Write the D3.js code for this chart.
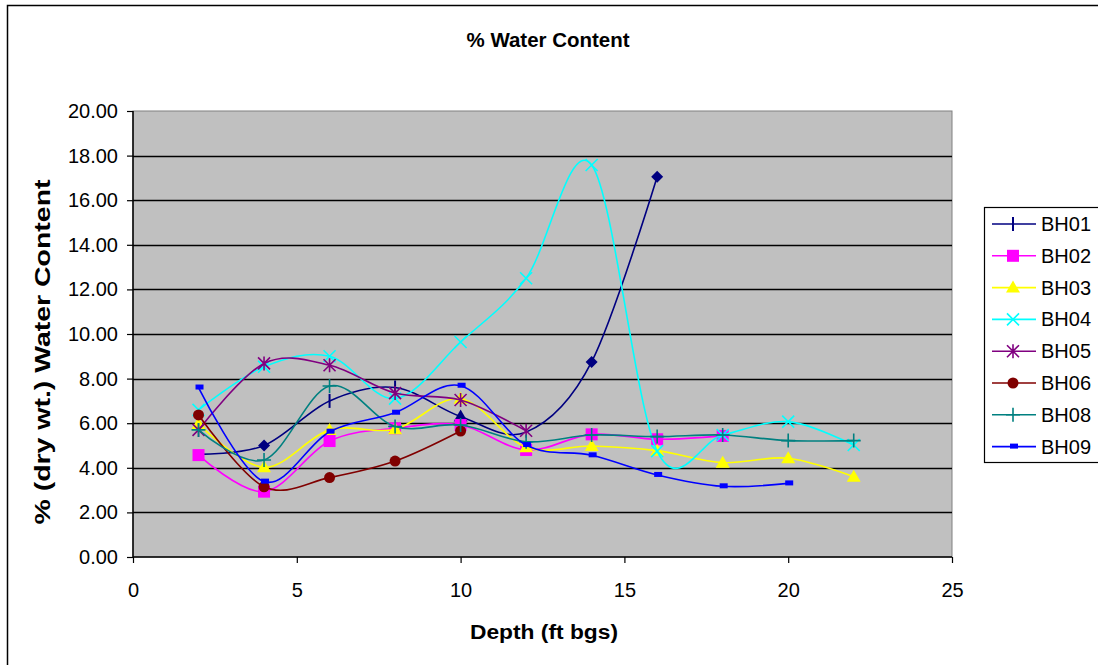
<!DOCTYPE html>
<html>
<head>
<meta charset="utf-8">
<script src="https://cdn.jsdelivr.net/npm/d3@7"></script>
<style>
  body { margin: 0; background: #fff; }
  text { font-family: "Liberation Sans", Arial, sans-serif; }
</style>
</head>
<body>
<script>
// depths (ft bgs) and % water content
var seriesNames = ["BH01", "BH02", "BH03", "BH04", "BH05", "BH06", "BH08", "BH09"];
var depthsBH01 = [2, 4, 6, 8, 10, 12, 14, 16];
var valuesBH01 = [4.6, 5.0, 7.0, 7.6, 6.3, 5.6, 8.75, 17.05];
var depthsBH02 = [2, 4, 6, 8, 10, 12, 14, 16, 18];
var valuesBH02 = [4.57, 2.93, 5.2, 5.77, 5.92, 4.8, 5.5, 5.28, 5.43];
var depthsBH03 = [2, 4, 6, 8, 10, 12, 14, 16, 18, 20, 22];
var valuesBH03 = [5.96, 4.02, 5.7, 5.73, 7.1, 4.92, 4.98, 4.77, 4.23, 4.43, 3.6];
var depthsBH04 = [2, 4, 6, 8, 10, 12, 14, 16, 18, 20, 22];
var valuesBH04 = [6.6, 8.53, 9.0, 7.1, 9.64, 12.5, 17.58, 4.75, 5.47, 6.07, 5.02];
var depthsBH05 = [2, 4, 6, 8, 10, 12];
var valuesBH05 = [5.7, 8.68, 8.6, 7.35, 7.04, 5.66];
var depthsBH06 = [2, 4, 6, 8, 10];
var valuesBH06 = [6.37, 3.15, 3.56, 4.3, 5.65];
var depthsBH08 = [2, 4, 6, 8, 10, 12, 14, 16, 18, 20, 22];
var valuesBH08 = [5.7, 4.35, 7.67, 5.85, 5.92, 5.17, 5.47, 5.4, 5.47, 5.22, 5.22];
var depthsBH09 = [2, 4, 6, 8, 10, 12, 14, 16, 18, 20];
var valuesBH09 = [7.6, 3.38, 5.62, 6.47, 7.68, 5.02, 4.56, 3.68, 3.17, 3.3];
var yTicks = [0, 2, 4, 6, 8, 10, 12, 14, 16, 18, 20];
var xTicks = [0, 5, 10, 15, 20, 25];

var allDepths = [depthsBH01, depthsBH02, depthsBH03, depthsBH04, depthsBH05, depthsBH06, depthsBH08, depthsBH09];
var allValues = [valuesBH01, valuesBH02, valuesBH03, valuesBH04, valuesBH05, valuesBH06, valuesBH08, valuesBH09];

// styling
var colors = ["#000080", "#FF00FF", "#FFFF00", "#00FFFF", "#800080", "#800000", "#008080", "#0000FF"];
var markers = ["dash", "square", "triangle", "x", "star", "circle", "plus", "rect"];
// BH01 has mixed point markers in the original
var bh01Markers = ["none", "diamond", "dash", "dash", "triangle", "none", "diamond", "diamond"];

var W = 1098, H = 665;
var plot = {left: 133, top: 111, right: 952, bottom: 557};

var svg = d3.select("body").append("svg")
    .attr("width", W)
    .attr("height", H);

svg.append("rect")
    .attr("x", 7.5).attr("y", 5.5)
    .attr("width", 1100).attr("height", 680)
    .attr("fill", "#fff").attr("stroke", "#000").attr("stroke-width", 1.5);

var x = d3.scaleLinear().domain([0, 25]).range([plot.left, plot.right]);
var y = d3.scaleLinear().domain([0, 20]).range([plot.bottom, plot.top]);

svg.append("rect")
    .attr("x", plot.left).attr("y", plot.top)
    .attr("width", plot.right - plot.left).attr("height", plot.bottom - plot.top)
    .attr("fill", "#C0C0C0").attr("stroke", "#808080").attr("stroke-width", 1);

// gridlines
svg.append("g").selectAll("line")
    .data(yTicks.filter(function(d) { return d > 0 && d < 20; }))
    .enter().append("line")
    .attr("x1", plot.left).attr("x2", plot.right)
    .attr("y1", function(d) { return Math.round(y(d)) + 0.5; })
    .attr("y2", function(d) { return Math.round(y(d)) + 0.5; })
    .attr("stroke", "#000").attr("stroke-width", 1.5);

// axes
var yAxis = svg.append("g")
    .attr("transform", "translate(" + plot.left + ",0)")
    .call(d3.axisLeft(y).tickValues(yTicks).tickSize(6).tickPadding(9)
        .tickFormat(function(d) { return d.toFixed(2); }));
var xAxis = svg.append("g")
    .attr("transform", "translate(0," + plot.bottom + ")")
    .call(d3.axisBottom(x).tickValues(xTicks).tickSize(6).tickPadding(20)
        .tickFormat(d3.format("d")));
[yAxis, xAxis].forEach(function(a) {
    a.select(".domain").attr("stroke", "#000").attr("stroke-width", 1.5);
    a.selectAll(".tick line").attr("stroke", "#000").attr("stroke-width", 1.2);
    a.selectAll("text").attr("font-size", 20).attr("fill", "#000")
        .style("font-family", "'Liberation Sans', Arial, sans-serif");
});
xAxis.select(".domain").attr("d", "M" + plot.left + ",0H" + plot.right);
yAxis.select(".domain").attr("d", "M0," + plot.top + "V" + plot.bottom);

// titles
svg.append("text")
    .attr("x", 548).attr("y", 47)
    .attr("text-anchor", "middle")
    .attr("font-size", 20).attr("font-weight", "bold")
    .attr("textLength", 163).attr("lengthAdjust", "spacingAndGlyphs")
    .text("% Water Content");
svg.append("text")
    .attr("x", 544).attr("y", 639)
    .attr("text-anchor", "middle")
    .attr("font-size", 20).attr("font-weight", "bold")
    .attr("textLength", 148).attr("lengthAdjust", "spacingAndGlyphs")
    .text("Depth (ft bgs)");
svg.append("text")
    .attr("transform", "translate(50,352) rotate(-90)")
    .attr("text-anchor", "middle")
    .attr("font-size", 22).attr("font-weight", "bold")
    .attr("textLength", 345).attr("lengthAdjust", "spacingAndGlyphs")
    .text("% (dry wt.) Water Content");

function drawMarker(g, type, cx, cy, color) {
    if (type === "none") return;
    if (type === "square") {
        g.append("rect").attr("x", cx - 6).attr("y", cy - 6).attr("width", 12).attr("height", 12)
            .attr("fill", color);
    } else if (type === "rect") {
        g.append("rect").attr("x", cx - 3).attr("y", cy - 3).attr("width", 8).attr("height", 5)
            .attr("fill", color);
    } else if (type === "triangle") {
        g.append("path").attr("d", "M" + cx + "," + (cy - 7) + "L" + (cx + 7) + "," + (cy + 5) + "L" + (cx - 7) + "," + (cy + 5) + "Z")
            .attr("fill", color);
    } else if (type === "diamond") {
        g.append("path").attr("d", "M" + cx + "," + (cy - 6) + "L" + (cx + 6) + "," + cy + "L" + cx + "," + (cy + 6) + "L" + (cx - 6) + "," + cy + "Z")
            .attr("fill", color);
    } else if (type === "circle") {
        g.append("circle").attr("cx", cx).attr("cy", cy).attr("r", 5.5).attr("fill", color);
    } else if (type === "x") {
        g.append("path").attr("d", "M" + (cx - 6) + "," + (cy - 6) + "L" + (cx + 6) + "," + (cy + 6) + "M" + (cx + 6) + "," + (cy - 6) + "L" + (cx - 6) + "," + (cy + 6))
            .attr("stroke", color).attr("stroke-width", 1.6).attr("fill", "none");
    } else if (type === "star") {
        g.append("path").attr("d", "M" + (cx - 6) + "," + (cy - 6) + "L" + (cx + 6) + "," + (cy + 6) + "M" + (cx + 6) + "," + (cy - 6) + "L" + (cx - 6) + "," + (cy + 6) + "M" + cx + "," + (cy - 7) + "V" + (cy + 7))
            .attr("stroke", color).attr("stroke-width", 1.6).attr("fill", "none");
    } else if (type === "plus") {
        g.append("path").attr("d", "M" + (cx - 7) + "," + cy + "H" + (cx + 7) + "M" + cx + "," + (cy - 7) + "V" + (cy + 7))
            .attr("stroke", color).attr("stroke-width", 1.6).attr("fill", "none");
    } else if (type === "dash") {
        g.append("path").attr("d", "M" + cx + "," + (cy - 7) + "V" + (cy + 7))
            .attr("stroke", color).attr("stroke-width", 2).attr("fill", "none");
    }
}

var line = d3.line()
    .x(function(d) { return x(d[0]); })
    .y(function(d) { return y(d[1]); })
    .curve(d3.curveCardinal.tension(0));

seriesNames.forEach(function(name, i) {
    var pts = allDepths[i].map(function(dp, j) { return [dp, allValues[i][j]]; });
    var g = svg.append("g");
    g.append("path")
        .datum(pts)
        .attr("d", line)
        .attr("fill", "none")
        .attr("stroke", colors[i])
        .attr("stroke-width", 1.6);
    pts.forEach(function(p, j) {
        var m = i === 0 ? bh01Markers[j] : markers[i];
        drawMarker(g, m, x(p[0]), y(p[1]), colors[i]);
    });
});

// legend
var legend = svg.append("g");
legend.append("rect")
    .attr("x", 984.5).attr("y", 207.5)
    .attr("width", 130).attr("height", 255)
    .attr("fill", "#fff").attr("stroke", "#000").attr("stroke-width", 1.2);
seriesNames.forEach(function(name, i) {
    var ly = 224 + i * 31.8;
    legend.append("line")
        .attr("x1", 992).attr("x2", 1036)
        .attr("y1", ly).attr("y2", ly)
        .attr("stroke", colors[i]).attr("stroke-width", 1.6);
    drawMarker(legend, markers[i], 1013, ly, colors[i]);
    legend.append("text")
        .attr("x", 1041).attr("y", ly + 7)
        .attr("font-size", 20)
        .text(name);
});
</script>
</body>
</html>
